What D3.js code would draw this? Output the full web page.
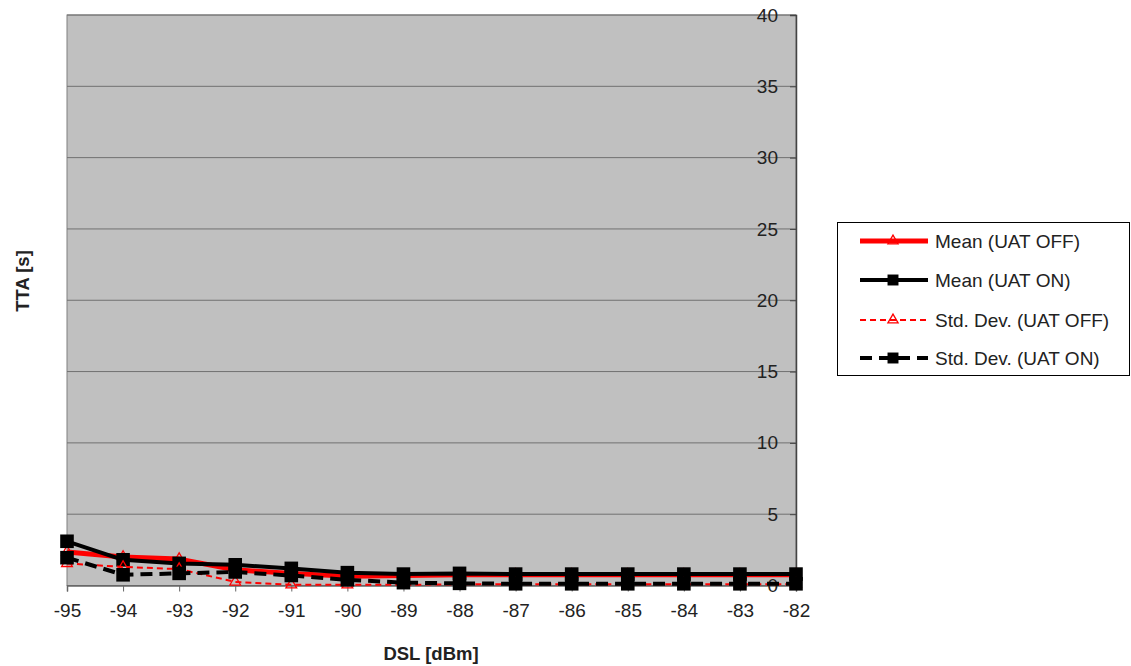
<!DOCTYPE html>
<html><head><meta charset="utf-8">
<script src="https://cdn.jsdelivr.net/npm/d3@7"></script>
<style>body{margin:0;background:#fff}svg{display:block}text{font-family:"Liberation Sans",Arial,sans-serif}</style>
</head><body><svg id="c" width="1131" height="666"></svg>
<script>
const dsl = [-95,-94,-93,-92,-91,-90,-89,-88,-87,-86,-85,-84,-83,-82];
const meanOff = [2.35,2.0,1.85,1.1,0.85,0.65,0.7,0.75,0.75,0.75,0.75,0.75,0.75,0.75];
const meanOn  = [3.1,1.8,1.55,1.45,1.2,0.9,0.8,0.85,0.8,0.8,0.8,0.8,0.8,0.8];
const stdOff  = [1.55,1.3,1.15,0.25,0.05,0.05,0.05,0.08,0.08,0.08,0.08,0.08,0.08,0.08];
const stdOn   = [1.95,0.75,0.85,0.95,0.7,0.4,0.2,0.15,0.12,0.12,0.12,0.12,0.12,0.12];
const yTicks = [0,5,10,15,20,25,30,35,40];
const seriesNames = ["Mean (UAT OFF)","Mean (UAT ON)","Std. Dev. (UAT OFF)","Std. Dev. (UAT ON)"];

const svg = d3.select("#c");
const L=67,R=796,T=15,B=585.5;
const FF='"Liberation Sans",Arial,sans-serif';
const x = d3.scaleLinear().domain([-95,-82]).range([L,R]);
const y = d3.scaleLinear().domain([0,40]).range([B,T]);

svg.append("rect").attr("x",L).attr("y",T).attr("width",R-L).attr("height",B-T)
  .attr("fill","#c0c0c0").attr("stroke","#808080").attr("stroke-width",1);
svg.append("g").selectAll("line").data(yTicks).join("line")
  .attr("x1",L).attr("x2",R).attr("y1",d=>y(d)).attr("y2",d=>y(d))
  .attr("stroke","#707070").attr("stroke-width",1);

const xa = svg.append("g").attr("transform",`translate(0,${B})`)
  .call(d3.axisBottom(x).tickValues(dsl).tickFormat(d=>String(d)).tickSize(6).tickPadding(12));
xa.select(".domain").attr("stroke","#666").attr("stroke-width",1.5);
xa.selectAll(".tick line").attr("stroke","#666");
xa.selectAll("text").attr("font-size",19).attr("fill","#222").style("font-family",FF);

const ya = svg.append("g").attr("transform",`translate(${R},0)`)
  .call(d3.axisLeft(y).tickValues(yTicks).tickFormat(d=>String(d)).tickSize(6).tickPadding(12));
ya.select(".domain").attr("stroke","#444").attr("stroke-width",1.5);
ya.selectAll(".tick line").attr("stroke","#444");
ya.selectAll("text").attr("font-size",19).attr("fill","#222").style("font-family",FF);

const line = d3.line().x((d,i)=>x(dsl[i])).y(d=>y(d));

const styles = [
  {data:meanOff,color:"#ff0000",w:5,dash:null,marker:"tri"},
  {data:meanOn,color:"#000",w:4,dash:null,marker:"sq"},
  {data:stdOff,color:"#ff0000",w:2,dash:"6,4",marker:"tri"},
  {data:stdOn,color:"#000",w:4,dash:"12,7",marker:"sq"}
];
function drawMarker(g,s,px,py,size){
  if(s.marker==="tri"){
    g.append("path").attr("d",d3.symbol().type(d3.symbolTriangle).size(size||50)())
      .attr("transform",`translate(${px},${py})`).attr("fill","none").attr("stroke",s.color).attr("stroke-width",1.3);
  } else {
    g.append("path").attr("d",d3.symbol().type(d3.symbolSquare).size(size||185)())
      .attr("transform",`translate(${px},${py})`).attr("fill","#000");
  }
}
const pg = svg.append("g");
styles.forEach(s=>{
  pg.append("path").datum(s.data).attr("d",line).attr("fill","none")
    .attr("stroke",s.color).attr("stroke-width",s.w).attr("stroke-dasharray",s.dash)
    .attr("stroke-linejoin","round");
  s.data.forEach((v,i)=>drawMarker(pg,s,x(dsl[i]),y(v)));
});

svg.append("text").attr("x",431).attr("y",660).attr("text-anchor","middle")
  .attr("font-size",18.5).attr("font-weight","bold").attr("fill","#222").text("DSL [dBm]");
svg.append("text").attr("transform","translate(29,281) rotate(-90)").attr("text-anchor","middle")
  .attr("font-size",18.5).attr("font-weight","bold").attr("fill","#222").text("TTA [s]");

const lg = svg.append("g");
lg.append("rect").attr("x",837.5).attr("y",222.5).attr("width",292).attr("height",153)
  .attr("fill","#fff").attr("stroke","#000").attr("stroke-width",1);
const rowsY=[241,280,320,358];
styles.forEach((s,i)=>{
  const yy=rowsY[i];
  lg.append("line").attr("x1",860).attr("x2",928).attr("y1",yy).attr("y2",yy)
    .attr("stroke",s.color).attr("stroke-width",s.w).attr("stroke-dasharray",s.dash);
  drawMarker(lg,s,893,yy,s.marker==="sq"?120:45);
  lg.append("text").attr("x",935).attr("y",yy).attr("dy","0.35em").attr("font-size",19)
    .attr("fill","#222").text(seriesNames[i]);
});
</script></body></html>
